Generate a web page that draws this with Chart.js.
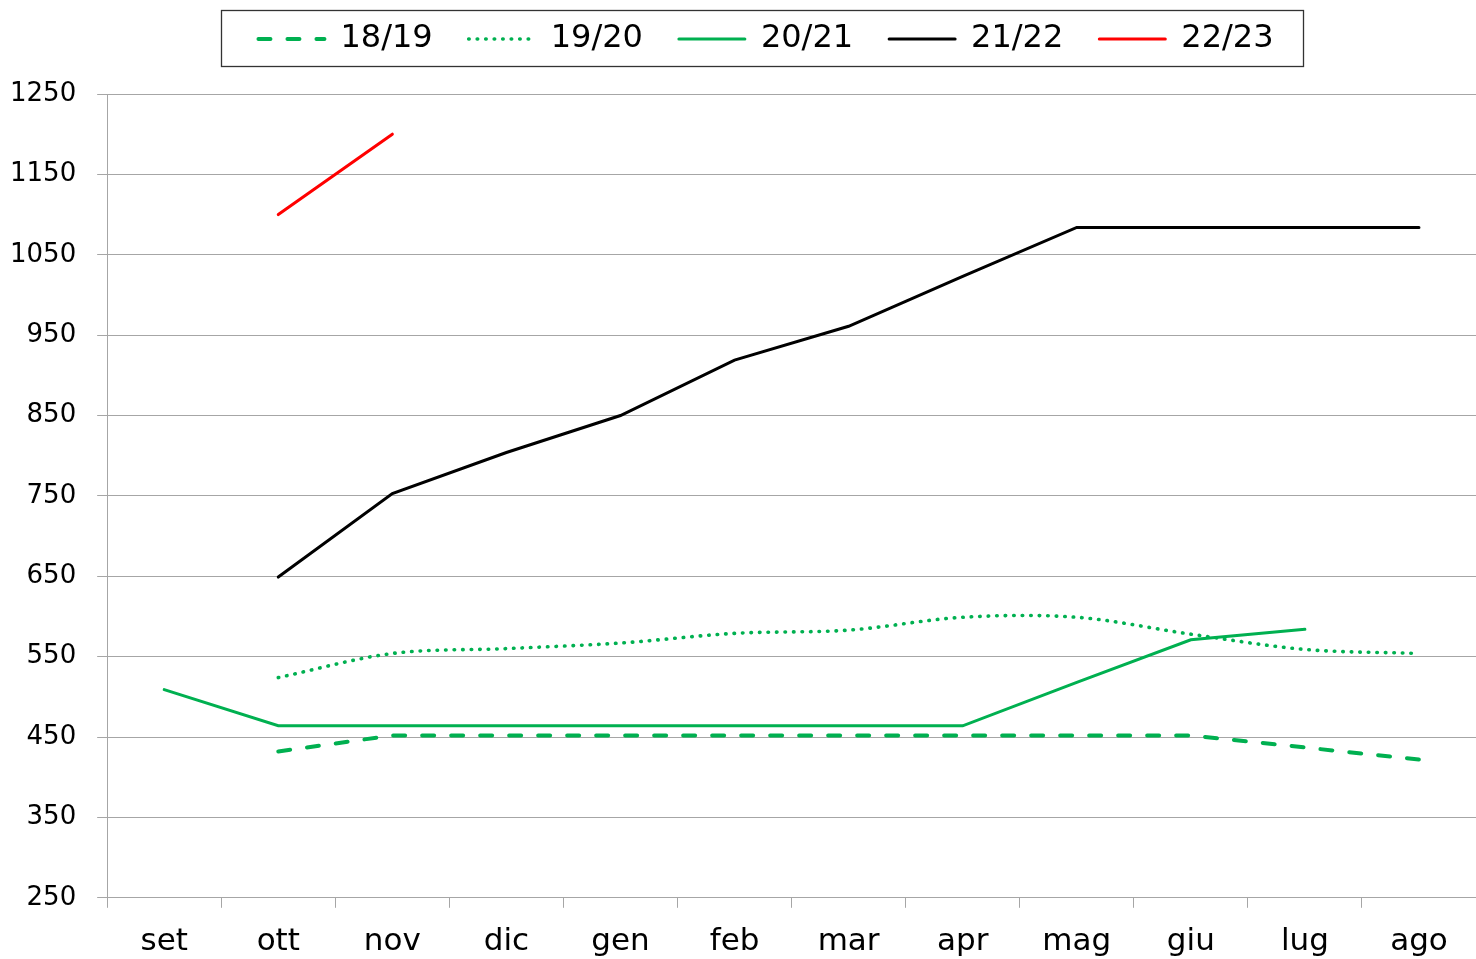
<!DOCTYPE html>
<html>
<head>
<meta charset="utf-8">
<script src="https://cdn.jsdelivr.net/npm/chart.js@4.4.1/dist/chart.umd.min.js"></script>
<style>
  html, body { margin: 0; padding: 0; background: #ffffff; }
  canvas { display: block; }
</style>
</head>
<body>
<canvas id="c" width="1476" height="959"></canvas>
<script>
// ---- data ----
const months = ['set', 'ott', 'nov', 'dic', 'gen', 'feb', 'mar', 'apr', 'mag', 'giu', 'lug', 'ago'];
const seriesNames = ['18/19', '19/20', '20/21', '21/22', '22/23'];
const s1819 = [null, 432, 452, 452, 452, 452, 452, 452, 452, 452, 437, 422];
const s1920 = [null, 524, 554, 560, 567, 579, 583, 599, 599, 578, 559, 554];
const s2021 = [509, 464, 464, 464, 464, 464, 464, 464, 518, 571, 584, null];
const s2122 = [null, 649, 753, 804, 850, 919, 961, 1023, 1084, 1084, 1084, 1084];
const s2223 = [null, 1100, 1200, null, null, null, null, null, null, null, null, null];
const yTicks = [250, 350, 450, 550, 650, 750, 850, 950, 1050, 1150, 1250];

const GREEN = '#00B050';
const GRID = '#A6A6A6';
const FONT = 'DejaVu Sans';
const LEGEND_FONT = 32;

const legendFrame = {
  id: 'legendFrame',
  afterLayout(chart) {
    const l = chart.legend;
    if (!l) return;
    const pad = l.options.labels.padding;
    const dx = 766 - (l.left + l.right) / 2;
    l.left += dx; l.right += dx;
    const newTop = 39 - pad - LEGEND_FONT / 2;
    const dy = newTop - l.top;
    l.top += dy; l.bottom += dy;
  },
  afterDraw(chart) {
    const l = chart.legend;
    if (!l) return;
    const ctx = chart.ctx;
    const pad = l.options.labels.padding;
    const x0 = (l.left + pad + l.right - l.lineWidths[0]) / 2;
    const x1 = x0 + l.lineWidths[0] - pad;
    ctx.save();
    ctx.strokeStyle = '#333333';
    ctx.lineWidth = 1.3;
    ctx.strokeRect(Math.round(x0 - 37) + 0.5, 10.5, Math.round(x1 - x0 + 67), 56);
    ctx.restore();
  }
};

new Chart(document.getElementById('c'), {
  type: 'line',
  data: {
    labels: months,
    datasets: [
      { label: seriesNames[0], data: s1819, borderColor: GREEN, backgroundColor: GREEN, borderWidth: 4,
        borderDash: [12, 17], borderCapStyle: 'round', pointRadius: 0, tension: 0 },
      { label: seriesNames[1], data: s1920, borderColor: GREEN, backgroundColor: GREEN, borderWidth: 3.6,
        borderDash: [0.5, 8], borderCapStyle: 'round', pointRadius: 0, tension: 0.33 },
      { label: seriesNames[2], data: s2021, borderColor: GREEN, backgroundColor: GREEN, borderWidth: 3,
        borderCapStyle: 'round', pointRadius: 0, tension: 0 },
      { label: seriesNames[3], data: s2122, borderColor: '#000000', backgroundColor: '#000000', borderWidth: 3,
        borderCapStyle: 'round', pointRadius: 0, tension: 0 },
      { label: seriesNames[4], data: s2223, borderColor: '#FF0000', backgroundColor: '#FF0000', borderWidth: 3,
        borderCapStyle: 'round', pointRadius: 0, tension: 0 }
    ]
  },
  options: {
    responsive: false,
    animation: false,
    devicePixelRatio: 1,
    layout: { padding: { top: 16, left: -11, right: -4, bottom: -18 } },
    plugins: {
      tooltip: { enabled: false },
      legend: {
        position: 'top',
        labels: {
          usePointStyle: true,
          pointStyle: 'line',
          pointStyleWidth: 66,
          padding: 36,
          color: '#000000',
          font: { family: FONT, size: LEGEND_FONT },
          generateLabels(chart) {
            const items = Chart.defaults.plugins.legend.labels.generateLabels(chart);
            items.forEach((it) => {
              const ds = chart.data.datasets[it.datasetIndex];
              it.lineDash = ds.borderDash || [];
              it.lineCap = ds.borderCapStyle || 'butt';
              it.lineWidth = ds.borderWidth;
              it.strokeStyle = ds.borderColor;
              it.fillStyle = ds.borderColor;
            });
            return items;
          }
        }
      }
    },
    scales: {
      x: {
        type: 'category',
        offset: true,
        grid: { offset: true, drawOnChartArea: false, drawTicks: true, tickLength: 10, color: GRID },
        border: { display: true, color: GRID, width: 1 },
        ticks: { color: '#000000', padding: 16, maxRotation: 0, autoSkip: false,
                 font: { family: FONT, size: 31 } }
      },
      y: {
        min: 250, max: 1250,
        afterBuildTicks(scale) { scale.ticks = yTicks.map(v => ({ value: v })); },
        grid: { color: GRID, tickLength: 10, drawTicks: true },
        border: { display: true, color: GRID, width: 1 },
        ticks: { color: '#000000', padding: 21, font: { family: FONT, size: 26 },
                 callback: (v) => String(v) }
      }
    }
  },
  plugins: [legendFrame]
});
</script>
</body>
</html>
